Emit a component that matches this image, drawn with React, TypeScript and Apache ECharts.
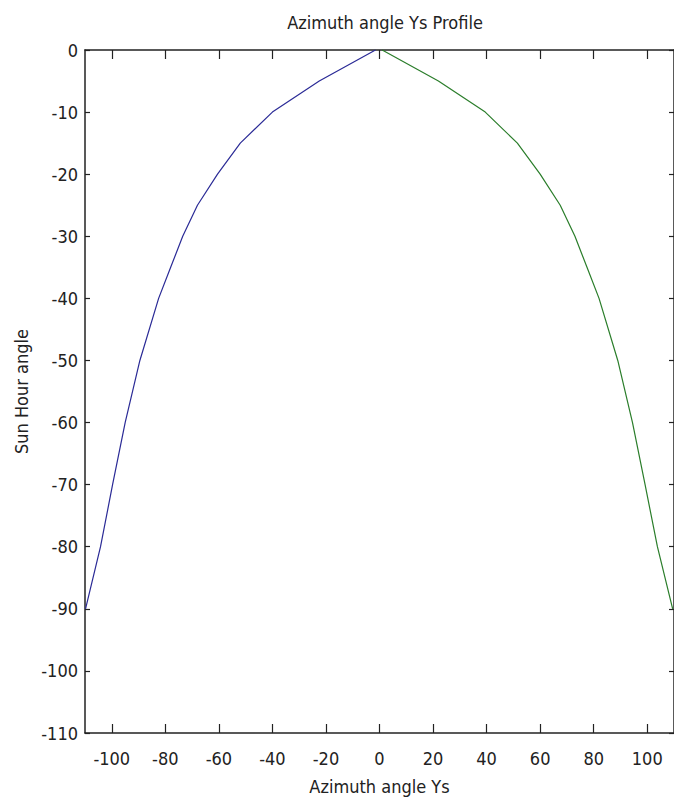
import React, { useEffect, useRef } from "react";
import * as echarts from "echarts";

const titleText = "Azimuth angle Ys Profile";
const xName = "Azimuth angle Ys";
const yName = "Sun Hour angle";

// Blue branch (negative azimuth): [azimuth, hour angle]
const blueAzimuth = [-1.5, -22.5, -40, -52, -60.5, -68, -73.5, -78, -82.5, -89.5, -95, -99.7, -104.2, -109.8];
const blueHour = [0, -5, -10, -15, -20, -25, -30, -35, -40, -50, -60, -70, -80, -90];

// Green branch (positive azimuth)
const greenAzimuth = [1, 22, 39.5, 51.5, 60, 67.5, 73, 77.5, 82, 89, 94.5, 99.2, 103.8, 109.5];
const greenHour = [0, -5, -10, -15, -20, -25, -30, -35, -40, -50, -60, -70, -80, -90];

const xTicks = [-100, -80, -60, -40, -20, 0, 20, 40, 60, 80, 100];

const FONT = "'Liberation Sans Narrow', 'DejaVu Sans Condensed', 'Arial Narrow', sans-serif";

export default function App() {
  const ref = useRef<HTMLDivElement>(null);
  useEffect(() => {
    if (!ref.current) return;
    const chart = echarts.init(ref.current, null, { renderer: "svg" });
    const axisLine = { show: true, onZero: false, lineStyle: { color: "#222", width: 1.5 } };
    const xCommon = {
      type: "value" as const,
      min: -110,
      max: 110,
      splitLine: { show: false },
      axisLine,
      axisTick: { show: true, inside: true, length: 9, customValues: xTicks, lineStyle: { color: "#222", width: 1.2 } },
    };
    const yCommon = {
      type: "value" as const,
      min: -110,
      max: 0,
      interval: 10,
      splitLine: { show: false },
      axisLine,
      axisTick: { show: true, inside: true, length: 5, lineStyle: { color: "#222", width: 1.2 } },
    };
    chart.setOption({
      animation: false,
      backgroundColor: "#ffffff",
      title: {
        text: titleText,
        left: 380,
        textAlign: "center",
        top: 8,
        textStyle: { fontFamily: FONT, fontSize: 18, fontWeight: "normal", color: "#222" },
      },
      grid: { left: 85, top: 50, width: 590, height: 683, containLabel: false },
      xAxis: [
        {
          ...xCommon,
          position: "bottom",
          name: xName,
          nameLocation: "middle",
          nameGap: 44,
          nameTextStyle: { fontFamily: FONT, fontSize: 18, color: "#222" },
          axisLabel: { show: true, customValues: xTicks, margin: 16, fontFamily: FONT, fontSize: 18, color: "#222" },
        },
        {
          ...xCommon,
          position: "top",
          axisLabel: { show: false },
        },
      ],
      yAxis: [
        {
          ...yCommon,
          position: "left",
          name: yName,
          nameLocation: "middle",
          nameGap: 46,
          nameRotate: 90,
          nameTextStyle: { fontFamily: FONT, fontSize: 18, color: "#222" },
          axisLabel: { show: true, margin: 7, fontFamily: FONT, fontSize: 18, color: "#222" },
        },
        {
          ...yCommon,
          position: "right",
          axisLabel: { show: false },
        },
      ],
      series: [
        {
          type: "line",
          data: blueAzimuth.map((x, i) => [x, blueHour[i]]),
          showSymbol: false,
          lineStyle: { color: "#2a2a96", width: 1.2 },
          xAxisIndex: 0,
          yAxisIndex: 0,
          clip: false,
        },
        {
          type: "line",
          data: greenAzimuth.map((x, i) => [x, greenHour[i]]),
          showSymbol: false,
          lineStyle: { color: "#2a7d2a", width: 1.2 },
          xAxisIndex: 0,
          yAxisIndex: 0,
          clip: false,
        },
      ],
    });
    return () => chart.dispose();
  }, []);
  return (
    <div
      ref={ref}
      style={{ position: "fixed", left: 0, top: 0, width: 674, height: 807, background: "#fff" }}
    />
  );
}
